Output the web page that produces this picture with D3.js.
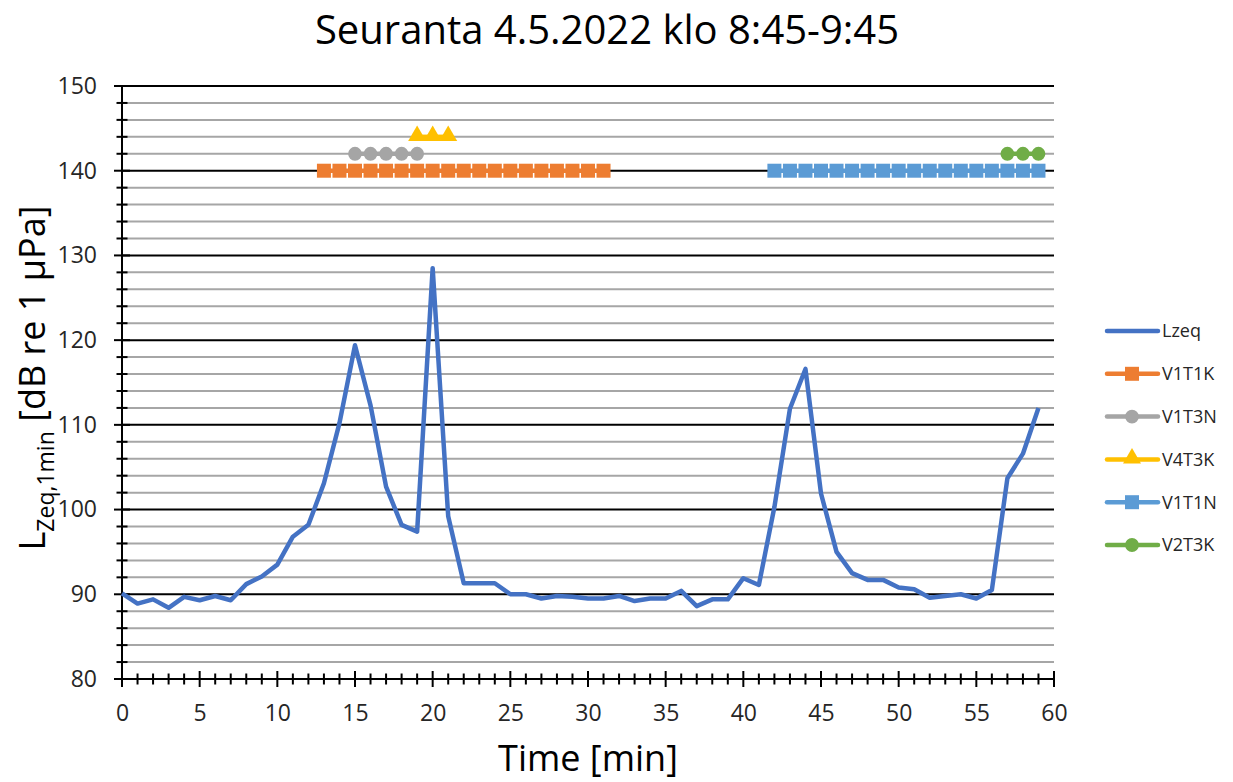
<!DOCTYPE html>
<html>
<head>
<meta charset="utf-8">
<script src="https://cdn.jsdelivr.net/npm/d3@7"></script>
<style>
  body { margin: 0; background: #fff; }
  svg { font-family: "Open Sans", "Noto Sans", sans-serif; }
</style>
</head>
<body>
<svg id="chart" width="1233" height="782"></svg>
<script>
// Lzeq minuuttiarvot 0..59 min
const minutes = d3.range(0, 60);
const lzeq = [90.1, 88.9, 89.4, 88.4, 89.7, 89.3, 89.8, 89.3, 91.2, 92.1,
  93.5, 96.8, 98.2, 103.1, 110.2, 119.4, 112.3, 102.7, 98.2, 97.4,
  128.5, 99.2, 91.3, 91.3, 91.3, 90.0, 90.0, 89.5, 89.8, 89.7,
  89.5, 89.5, 89.8, 89.2, 89.5, 89.5, 90.4, 88.6, 89.4, 89.4,
  91.9, 91.1, 100.3, 111.9, 116.6, 101.9, 95.0, 92.5, 91.7, 91.7,
  90.8, 90.6, 89.6, 89.8, 90.0, 89.5, 90.5, 103.7, 106.6, 112.0];

// Tapahtumasarjat (minuutit ja taso)
const v1t1kMin = d3.range(13, 32);
const v1t1kVal = 140;
const v1t3nMin = [15, 16, 17, 18, 19];
const v1t3nVal = 142;
const v4t3kMin = [19, 20, 21];
const v4t3kVal = 144;
const v1t1nMin = d3.range(42, 60);
const v1t1nVal = 140;
const v2t3kMin = [57, 58, 59];
const v2t3kVal = 142;

const xTicks = [0, 5, 10, 15, 20, 25, 30, 35, 40, 45, 50, 55, 60];
const yTicks = [80, 90, 100, 110, 120, 130, 140, 150];

const series = [
  { name: "V1T1K", color: "#ED7D31", shape: "square", x: v1t1kMin, v: v1t1kVal },
  { name: "V1T3N", color: "#A5A5A5", shape: "circle", x: v1t3nMin, v: v1t3nVal },
  { name: "V4T3K", color: "#FFC000", shape: "triangle", x: v4t3kMin, v: v4t3kVal },
  { name: "V1T1N", color: "#5B9BD5", shape: "square", x: v1t1nMin, v: v1t1nVal },
  { name: "V2T3K", color: "#70AD47", shape: "circle", x: v2t3kMin, v: v2t3kVal }
];

const svg = d3.select("#chart");
const pLeft = 122, pRight = 1054, pTop = 86, pBottom = 679;

const x = d3.scaleLinear().domain([0, 60]).range([pLeft, pRight]);
const y = d3.scaleLinear().domain([80, 150]).range([pBottom, pTop]);

// Apuviivat (2 dB välein harmaa, 10 dB välein musta)
const minorY = d3.range(82, 150, 2).filter(v => v % 10 !== 0);
svg.append("g").selectAll("line").data(minorY).enter().append("line")
  .attr("x1", pLeft).attr("x2", pRight)
  .attr("y1", d => y(d)).attr("y2", d => y(d))
  .attr("stroke", "#a6a6a6").attr("stroke-width", 2);
svg.append("g").selectAll("line").data(yTicks.filter(v => v > 80)).enter().append("line")
  .attr("x1", pLeft).attr("x2", pRight)
  .attr("y1", d => y(d)).attr("y2", d => y(d))
  .attr("stroke", "#000").attr("stroke-width", 2);

// Akselit
const yAxis = svg.append("g").attr("transform", `translate(${pLeft},0)`)
  .call(d3.axisLeft(y).tickValues(yTicks).tickSize(0).tickPadding(25));
yAxis.select(".domain").remove();
yAxis.selectAll("text").style("font-size", "23px").style("font-family", "Open Sans").attr("fill", "#262626");

const xAxis = svg.append("g").attr("transform", `translate(0,${pBottom})`)
  .call(d3.axisBottom(x).tickValues(xTicks).tickSize(0).tickPadding(26));
xAxis.select(".domain").remove();
xAxis.selectAll("text").style("font-size", "23px").style("font-family", "Open Sans").attr("fill", "#262626");

// Ristikkäiset tikit
const tickG = svg.append("g").attr("stroke", "#000").attr("stroke-width", 2);
d3.range(80, 151, 2).forEach(v => {
  const len = v % 10 === 0 ? 8 : 5.5;
  tickG.append("line").attr("x1", pLeft - len).attr("x2", pLeft + len)
    .attr("y1", y(v)).attr("y2", y(v));
});
d3.range(0, 61, 1).forEach(v => {
  const len = v % 5 === 0 ? 8 : 5.5;
  tickG.append("line").attr("y1", pBottom - len).attr("y2", pBottom + len)
    .attr("x1", x(v)).attr("x2", x(v));
});
tickG.append("line").attr("x1", pLeft).attr("x2", pLeft).attr("y1", pTop).attr("y2", pBottom);
tickG.append("line").attr("x1", pLeft).attr("x2", pRight).attr("y1", pBottom).attr("y2", pBottom);

// Lzeq-viiva
const line = d3.line().x((d, i) => x(minutes[i])).y(d => y(d));
svg.append("path").datum(lzeq)
  .attr("d", line).attr("fill", "none")
  .attr("stroke", "#4472C4").attr("stroke-width", 4.5).attr("stroke-linejoin", "round");

// Merkkisarjat
const symType = { square: d3.symbolSquare, circle: d3.symbolCircle, triangle: d3.symbolTriangle };
const symSize = { square: 196, circle: 150, triangle: 140 };
series.forEach(s => {
  svg.append("path")
    .attr("d", d3.line()(s.x.map(m => [x(m), y(s.v)])))
    .attr("fill", "none").attr("stroke", s.color).attr("stroke-width", 4.5);
  svg.append("g").selectAll("path").data(s.x).enter().append("path")
    .attr("transform", d => `translate(${x(d)},${y(s.v) + (s.shape === "triangle" ? -1 : 0)})`)
    .attr("d", d3.symbol().type(symType[s.shape]).size(symSize[s.shape]))
    .attr("fill", s.color);
});

// Legenda
const legendItems = [{ name: "Lzeq", color: "#4472C4", shape: null }].concat(series);
const legend = svg.append("g");
legendItems.forEach((d, i) => {
  const ly = 331 + i * 42.8;
  legend.append("line").attr("x1", 1107).attr("x2", 1158)
    .attr("y1", ly).attr("y2", ly)
    .attr("stroke", d.color).attr("stroke-width", 4.5).attr("stroke-linecap", "round");
  if (d.shape) {
    legend.append("path").attr("transform", `translate(1132,${ly + (d.shape === "triangle" ? -1 : 0)})`)
      .attr("d", d3.symbol().type(symType[d.shape]).size(symSize[d.shape]))
      .attr("fill", d.color);
  }
  legend.append("text").attr("x", 1162).attr("y", ly).attr("dy", "0.35em")
    .style("font-size", "18px").attr("fill", "#262626").text(d.name);
});

// Otsikot
svg.append("text").attr("x", 607).attr("y", 44).attr("text-anchor", "middle")
  .style("font-size", "40px").attr("fill", "#000")
  .text("Seuranta 4.5.2022 klo 8:45-9:45");

svg.append("text").attr("x", 588).attr("y", 771).attr("text-anchor", "middle")
  .style("font-size", "36px").attr("fill", "#000").text("Time [min]");

const yt = svg.append("text").attr("transform", "translate(45,378) rotate(-90)")
  .attr("text-anchor", "middle").style("font-size", "36px").attr("fill", "#000");
yt.append("tspan").text("L");
yt.append("tspan").attr("dy", 9).style("font-size", "23px").text("Zeq,1min");
yt.append("tspan").attr("dy", -9).text(" [dB re 1 µPa]");
</script>
</body>
</html>
